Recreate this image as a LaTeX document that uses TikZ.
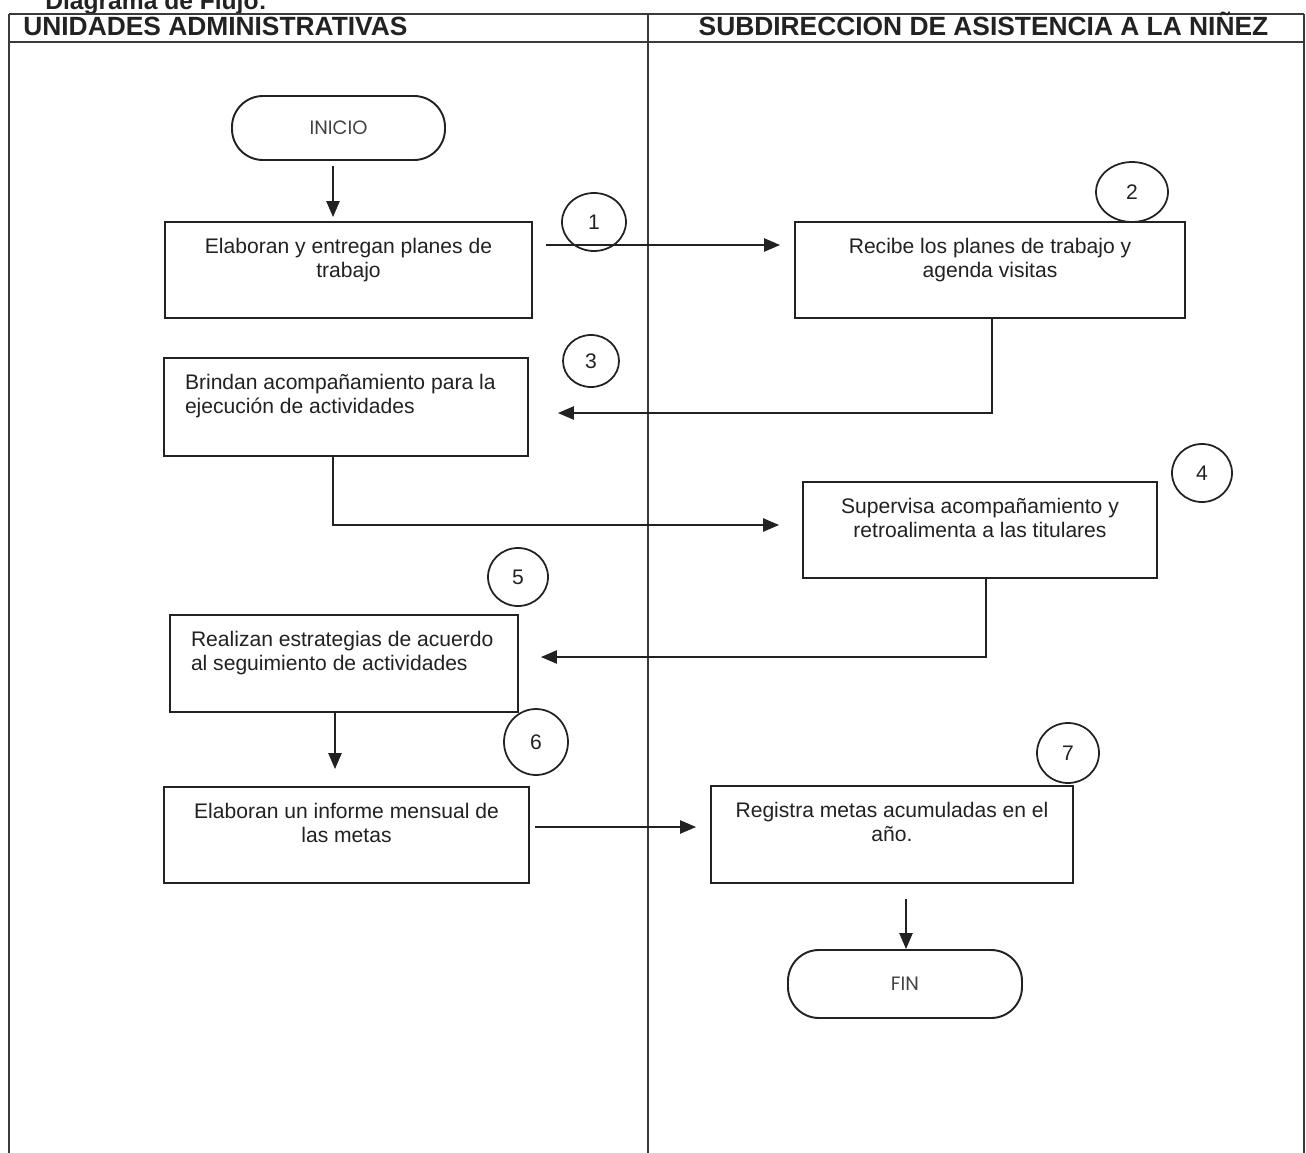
\documentclass[tikz,border=0pt]{standalone}
\usepackage{fontspec}
\setmainfont{Liberation Sans}
\newfontfamily\termfont{Poppins}
\usetikzlibrary{arrows.meta,calc,shapes.geometric}

% one drawing unit = one pixel of the sheet
\newlength{\pxu}\setlength{\pxu}{0.02cm}

% box body: width, height, alignment, text (first baseline 31 units below the top)
\newcommand{\bodytext}[4]{\parbox[c][#2\pxu][t]{#1\pxu}{\fontsize{12pt}{14.2pt}\selectfont #3\rule{0pt}{31\pxu}#4\par}}
\newcommand{\leftbody}{\raggedright\leftskip=21\pxu\relax}

\definecolor{ink}{HTML}{222222}
\definecolor{rule}{HTML}{3A3A3A}

\tikzset{
  stepbox/.style={draw=ink, line width=1.1pt, rectangle, inner sep=0pt, text=ink},
  term/.style={draw=ink, line width=1.1pt, rectangle, rounded corners=31\pxu,
    inner sep=0pt, text=ink!85, font=\termfont\fontsize{11pt}{13pt}\selectfont},
  num/.style={draw=ink, line width=1pt, ellipse, inner sep=0pt, text=ink,
    font=\fontsize{12pt}{14pt}\selectfont},
  conn/.style={draw=ink, line width=0.8pt, -{Triangle[length=9pt,width=7.5pt]}},
  lane/.style={draw=rule, line width=0.6pt},
  headline/.style={draw=rule, line width=0.9pt},
  headtext/.style={text=ink, inner sep=0pt, font=\bfseries\fontsize{15pt}{17pt}\selectfont},
}

\begin{document}
\begin{tikzpicture}[x=0.02cm, y=-0.02cm]
\useasboundingbox (0,0) rectangle (1306,1153);
\clip (0,0) rectangle (1306,1153);
\fill[white] (0,0) rectangle (1306,1153);

% sheet title, partly above the sheet
\node[headtext, anchor=base west, font=\bfseries\fontsize{14pt}{16pt}\selectfont] (title) at (45,9) {Diagrama de Flujo:};

% swimlane frame
\draw[headline] (9,14) -- (1304,14);
\draw[headline] (9,42) -- (1304,42);
\draw[lane] (9,14) -- (9,1153);
\draw[lane] (648,14) -- (648,1153);
\draw[lane] (1304,14) -- (1304,1153);

\node[headtext, anchor=base west] (laneA) at (23,35) {UNIDADES ADMINISTRATIVAS};
\node[headtext, anchor=base] (laneB) at (983.5,35) {SUBDIRECCION DE ASISTENCIA A LA NIÑEZ};

% terminals
\node[term, minimum width=213\pxu, minimum height=64\pxu] (inicio) at (338.5,128) {INICIO};
\node[term, minimum width=234\pxu, minimum height=68\pxu] (fin) at (905,984) {FIN};

% process boxes
\node[stepbox] (b1) at (348.5,270) {\bodytext{367}{96}{\centering}{Elaboran y entregan planes de\\trabajo}};
\node[stepbox] (b2) at (990,270) {\bodytext{390}{96}{\centering}{Recibe los planes de trabajo y\\agenda visitas}};
\node[stepbox] (b3) at (346,407) {\bodytext{364}{98}{\leftbody}{Brindan acompañamiento para la\\ejecución de actividades}};
\node[stepbox] (b4) at (980,530) {\bodytext{354}{96}{\centering}{Supervisa acompañamiento y\\retroalimenta a las titulares}};
\node[stepbox] (b5) at (344,663.5) {\bodytext{348}{97}{\leftbody}{Realizan estrategias de acuerdo\\al seguimiento de actividades}};
\node[stepbox] (b6) at (346.5,835) {\bodytext{365}{96}{\centering}{Elaboran un informe mensual de\\las metas}};
\node[stepbox] (b7) at (892,834.5) {\bodytext{362}{97}{\centering}{Registra metas acumuladas en el\\año.}};

% step numbers
\node[num, minimum width=64\pxu, minimum height=58\pxu] (n1) at (594,222) {1};
\node[num, minimum width=72\pxu, minimum height=60\pxu] (n2) at (1132,192) {2};
\node[num, minimum width=56\pxu, minimum height=52\pxu] (n3) at (591,361) {3};
\node[num, minimum width=60\pxu, minimum height=58\pxu] (n4) at (1202,473) {4};
\node[num, minimum width=60\pxu, minimum height=58\pxu] (n5) at (518,577) {5};
\node[num, minimum width=64\pxu, minimum height=66\pxu] (n6) at (536,742) {6};
\node[num, minimum width=62\pxu, minimum height=60\pxu] (n7) at (1068,753) {7};

% flow
\draw[conn] ($(inicio.south)+(-5.5,5)$) -- ($(b1.north)+(-15.5,-4)$);
\draw[conn] ($(b1.east)+(13,-25)$) -- ($(b2.west)+(-14,-25)$);
\draw[conn] ($(b2.south)+(2,0)$) |- ($(b3.east)+(29,6)$);
\draw[conn] ($(b3.south)+(-13,0)$) |- ($(b4.west)+(-23,-5)$);
\draw[conn] ($(b4.south)+(6,0)$) |- ($(b5.east)+(22,-6.5)$);
\draw[conn] ($(b5.south)+(-9,0)$) -- ($(b6.north)+(-11.5,-17)$);
\draw[conn] ($(b6.east)+(5,-8)$) -- ($(b7.west)+(-14,-7.5)$);
\draw[conn] ($(b7.south)+(14,15)$) -- ($(fin.north)+(1,0)$);
\end{tikzpicture}
\end{document}
